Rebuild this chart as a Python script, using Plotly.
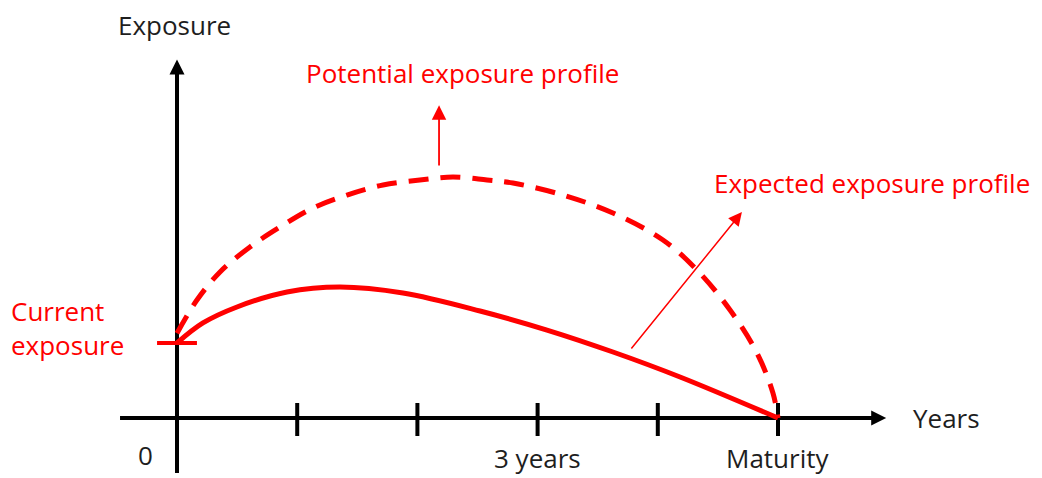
import plotly.graph_objects as go

# ---- data (years, exposure units) ----
expected_x = [0.0, 0.216, 0.499, 0.915, 1.356, 1.88, 2.521, 3.078, 3.627, 4.185, 5.0]
expected_y = [1.0, 1.267, 1.48, 1.68, 1.747, 1.667, 1.427, 1.173, 0.88, 0.547, 0.0]

potential_x = [0.0, 0.166, 0.358, 0.607, 0.857, 1.131, 1.414, 1.714, 2.02, 2.296,
               2.579, 2.795, 3.211, 3.627, 4.043, 4.326, 4.601, 4.825, 4.958, 5.0]
potential_y = [1.13, 1.573, 1.947, 2.28, 2.547, 2.80, 2.973, 3.107, 3.173, 3.213,
               3.173, 3.133, 2.973, 2.733, 2.373, 1.973, 1.44, 0.867, 0.333, 0.0]

tick_years = [1, 2, 3, 4, 5]
tick_labels = {3: "3 years", 5: "Maturity"}
current_exposure = 1.0

RED = "#ff0000"
DARK = "#1e1e1e"
FONT = "Open Sans"
FS = 26

fig = go.Figure()

# axes drawn as lines
fig.add_trace(go.Scatter(x=[-0.474, 5.8], y=[0, 0], mode="lines",
                         line=dict(color="black", width=4), hoverinfo="skip"))
fig.add_trace(go.Scatter(x=[0, 0], y=[-0.733, 4.65], mode="lines",
                         line=dict(color="black", width=4), hoverinfo="skip"))
# tick marks
for t in tick_years:
    fig.add_trace(go.Scatter(x=[t, t], y=[0.2, -0.24], mode="lines",
                             line=dict(color="black", width=4), hoverinfo="skip"))

# current exposure marker
fig.add_trace(go.Scatter(x=[-0.166, 0.166], y=[current_exposure, current_exposure],
                         mode="lines", line=dict(color=RED, width=4), hoverinfo="skip"))

# curves
fig.add_trace(go.Scatter(x=potential_x, y=potential_y, mode="lines",
                         line=dict(color=RED, width=5, dash="20px,12px", shape="spline"),
                         hoverinfo="skip"))
fig.add_trace(go.Scatter(x=expected_x, y=expected_y, mode="lines",
                         line=dict(color=RED, width=5, shape="spline"),
                         hoverinfo="skip"))

annotations = []
# axis arrowheads
annotations.append(dict(x=5.9, y=0, ax=5.5, ay=0, xref="x", yref="y", axref="x", ayref="y",
                        showarrow=True, arrowhead=2, arrowsize=1.2, arrowwidth=2.5,
                        arrowcolor="black", text=""))
annotations.append(dict(x=0, y=4.78, ax=0, ay=4.4, xref="x", yref="y", axref="x", ayref="y",
                        showarrow=True, arrowhead=2, arrowsize=1.2, arrowwidth=2.5,
                        arrowcolor="black", text=""))
# pointer arrows
annotations.append(dict(x=2.18, y=4.17, ax=2.18, ay=3.347, xref="x", yref="y", axref="x", ayref="y",
                        showarrow=True, arrowhead=2, arrowsize=1.6, arrowwidth=1.8,
                        arrowcolor=RED, text=""))
annotations.append(dict(x=4.70, y=2.747, ax=3.77, ay=0.907, xref="x", yref="y", axref="x", ayref="y",
                        showarrow=True, arrowhead=2, arrowsize=1.8, arrowwidth=1.5,
                        arrowcolor=RED, text=""))

# texts
def txt(x, y, s, color, xanchor="center", align="center", size=FS):
    return dict(x=x, y=y, xref="x", yref="y", text=s, showarrow=False,
                xanchor=xanchor, yanchor="middle", align=align, borderpad=0,
                font=dict(family=FONT, size=size, color=color))

annotations.append(txt(-0.017, 5.24, "Exposure", DARK))
annotations.append(txt(1.065, 4.6, "Potential exposure profile", RED, xanchor="left"))
annotations.append(txt(4.46, 3.133, "Expected exposure profile", RED, xanchor="left"))
annotations.append(txt(-1.39, 1.2, "Current<br>exposure", RED, xanchor="left", align="left"))
annotations.append(txt(-0.266, -0.493, "0", DARK))
for t, lab in tick_labels.items():
    annotations.append(txt(t, -0.535, lab, DARK))
annotations.append(txt(6.115, 0.0, "Years", DARK, xanchor="left"))

fig.update_layout(
    width=1042, height=478,
    margin=dict(l=0, r=0, t=0, b=0),
    paper_bgcolor="white", plot_bgcolor="white",
    showlegend=False,
    xaxis=dict(range=[-177 / 120.2, (1042 - 177) / 120.2], visible=False, fixedrange=True),
    yaxis=dict(range=[-60 / 75, 418 / 75], visible=False, fixedrange=True),
    annotations=annotations,
)

fig.write_html("out.html", config={"displayModeBar": False},
               post_script="document.body.style.margin='0';document.body.style.overflow='hidden';")
